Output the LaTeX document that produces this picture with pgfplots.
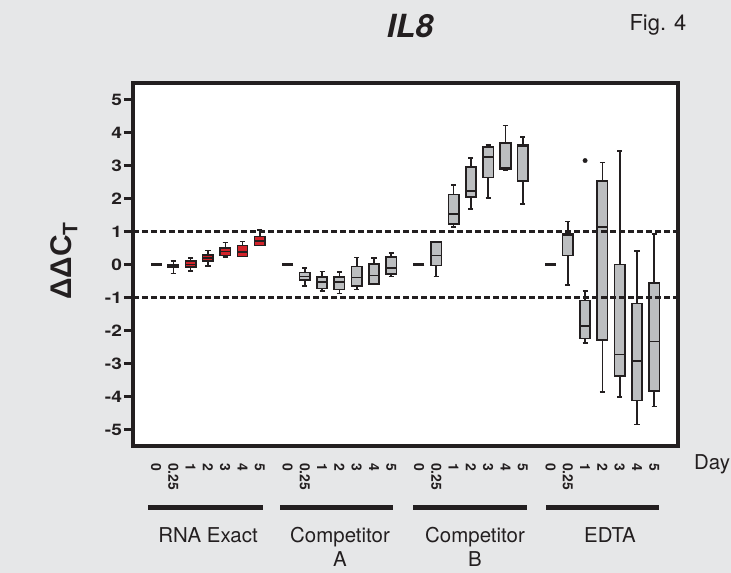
\documentclass[border=0pt]{standalone}
\usepackage{fontspec}
\setmainfont{TeX Gyre Heros}
\newfontfamily\lsans{Liberation Sans}
\usepackage{pgfplots}
\pgfplotsset{compat=1.18}
\usepgfplotslibrary{statistics}
\definecolor{bg}{HTML}{E6E7E8}
\definecolor{ink}{HTML}{231F20}
\definecolor{boxgray}{HTML}{BCBEC0}
\definecolor{boxred}{HTML}{D2232A}
\pgfplotsset{
  gbox/.style={draw=ink, line width=1.7bp, fill=boxgray,
    boxplot/every whisker/.style={line width=1.7bp, draw=ink},
    boxplot/every median/.style={line width=1.7bp, draw=ink},
    boxplot/every box/.style={line width=1.7bp, draw=ink, fill=boxgray}},
  rbox/.style={draw=ink, line width=1.4bp, fill=boxred,
    boxplot/every whisker/.style={line width=1.4bp, draw=ink},
    boxplot/every median/.style={line width=1.4bp, draw=ink},
    boxplot/every box/.style={line width=1.4bp, draw=ink, fill=boxred}},
}
\begin{document}
\begin{tikzpicture}
\fill[bg] (-133bp,-127bp) rectangle (598bp,446bp);
\begin{axis}[
  at={(0,0)}, anchor=south west,
  scale only axis, width=545bp, height=363bp,
  xmin=-1.33, xmax=30.17, ymin=-5.5, ymax=5.5,
  axis background/.style={fill=white},
  axis line style={line width=3.5bp, draw=ink},
  clip=false,
  tick align=outside,
  ytick={-5,-4,-3,-2,-1,0,1,2,3,4,5},
  yticklabels={-5,-4,-3,-2,-1,0,1,2,3,4,5},
  ytick pos=left,
  major tick length=9bp,
  ytick style={line width=3bp, draw=ink},
  yticklabel style={font=\bfseries\fontsize{16}{16}\selectfont, text=ink, inner sep=1.5bp, xscale=1.2},
  xtick={0,1,2,3,4,5,6, 7.6,8.6,9.6,10.6,11.6,12.6,13.6, 15.2,16.2,17.2,18.2,19.2,20.2,21.2, 22.8,23.8,24.8,25.8,26.8,27.8,28.8},
  xticklabels={0,0.25,1,2,3,4,5,0,0.25,1,2,3,4,5,0,0.25,1,2,3,4,5,0,0.25,1,2,3,4,5},
  xtick style={draw=none},
  xticklabel style={rotate=-90, anchor=west, inner sep=0pt, font=\bfseries\fontsize{14}{14}\selectfont, text=ink},
  xticklabel shift=8bp,
  boxplot/draw direction=y,
  boxplot/box extend=0.6,
  boxplot/whisker extend=0.3,
]
% RNA Exact
\addplot[rbox, boxplot prepared={draw position=1, lower whisker=-0.27, lower quartile=-0.07, median=-0.03, upper quartile=0.0, upper whisker=0.11}] coordinates {};
\addplot[rbox, boxplot prepared={draw position=2, lower whisker=-0.2, lower quartile=-0.08, median=0.0, upper quartile=0.1, upper whisker=0.2}] coordinates {};
\addplot[rbox, boxplot prepared={draw position=3, lower whisker=-0.05, lower quartile=0.1, median=0.2, upper quartile=0.29, upper whisker=0.42}] coordinates {};
\addplot[rbox, boxplot prepared={draw position=4, lower whisker=0.23, lower quartile=0.27, median=0.4, upper quartile=0.5, upper whisker=0.66}] coordinates {};
\addplot[rbox, boxplot prepared={draw position=5, lower whisker=0.24, lower quartile=0.25, median=0.38, upper quartile=0.58, upper whisker=0.7}] coordinates {};
\addplot[rbox, boxplot prepared={draw position=6, lower whisker=0.57, lower quartile=0.57, median=0.71, upper quartile=0.85, upper whisker=1.05}] coordinates {};
% Competitor A
\addplot[gbox, boxplot prepared={draw position=8.6, lower whisker=-0.66, lower quartile=-0.48, median=-0.36, upper quartile=-0.24, upper whisker=-0.1}] coordinates {};
\addplot[gbox, boxplot prepared={draw position=9.6, lower whisker=-0.81, lower quartile=-0.73, median=-0.53, upper quartile=-0.38, upper whisker=-0.21}] coordinates {};
\addplot[gbox, boxplot prepared={draw position=10.6, lower whisker=-0.88, lower quartile=-0.76, median=-0.53, upper quartile=-0.38, upper whisker=-0.23}] coordinates {};
\addplot[gbox, boxplot prepared={draw position=11.6, lower whisker=-0.76, lower quartile=-0.66, median=-0.39, upper quartile=-0.06, upper whisker=0.21}] coordinates {};
\addplot[gbox, boxplot prepared={draw position=12.6, lower whisker=-0.6, lower quartile=-0.6, median=-0.33, upper quartile=0.02, upper whisker=0.2}] coordinates {};
\addplot[gbox, boxplot prepared={draw position=13.6, lower whisker=-0.36, lower quartile=-0.28, median=-0.1, upper quartile=0.23, upper whisker=0.35}] coordinates {};
% Competitor B
\addplot[gbox, boxplot prepared={draw position=16.2, lower whisker=-0.36, lower quartile=-0.03, median=0.27, upper quartile=0.68, upper whisker=0.7}] coordinates {};
\addplot[gbox, boxplot prepared={draw position=17.2, lower whisker=1.13, lower quartile=1.22, median=1.52, upper quartile=2.12, upper whisker=2.4}] coordinates {};
\addplot[gbox, boxplot prepared={draw position=18.2, lower whisker=1.69, lower quartile=2.05, median=2.23, upper quartile=2.95, upper whisker=3.23}] coordinates {};
\addplot[gbox, boxplot prepared={draw position=19.2, lower whisker=2.02, lower quartile=2.64, median=3.26, upper quartile=3.56, upper whisker=3.63}] coordinates {};
\addplot[gbox, boxplot prepared={draw position=20.2, lower whisker=2.86, lower quartile=2.9, median=2.93, upper quartile=3.68, upper whisker=4.21}] coordinates {};
\addplot[gbox, boxplot prepared={draw position=21.2, lower whisker=1.84, lower quartile=2.52, median=3.6, upper quartile=3.64, upper whisker=3.86}] coordinates {};
% EDTA
\addplot[gbox, boxplot prepared={draw position=23.8, lower whisker=-0.63, lower quartile=0.27, median=0.88, upper quartile=0.92, upper whisker=1.3}] coordinates {};
\addplot[gbox, boxplot prepared={draw position=24.8, lower whisker=-2.37, lower quartile=-2.24, median=-1.87, upper quartile=-1.09, upper whisker=-0.81}] coordinates {};
\addplot[gbox, boxplot prepared={draw position=25.8, lower whisker=-3.86, lower quartile=-2.29, median=1.14, upper quartile=2.53, upper whisker=3.09}] coordinates {};
\addplot[gbox, boxplot prepared={draw position=26.8, lower whisker=-4.02, lower quartile=-3.38, median=-2.73, upper quartile=0.0, upper whisker=3.44}] coordinates {};
\addplot[gbox, boxplot prepared={draw position=27.8, lower whisker=-4.85, lower quartile=-4.12, median=-2.92, upper quartile=-1.18, upper whisker=0.4}] coordinates {};
\addplot[gbox, boxplot prepared={draw position=28.8, lower whisker=-4.3, lower quartile=-3.83, median=-2.33, upper quartile=-0.57, upper whisker=0.93}] coordinates {};
% outlier
\addplot[only marks, mark=*, mark size=2.2bp, ink, mark options={fill=ink}] coordinates {(24.8,3.15)};
% day-0 values
\addplot[only marks, mark=-, mark size=5.5bp, mark options={line width=3.5bp, draw=ink}] coordinates {(0,0) (7.6,0) (15.2,0) (22.8,0)};
% threshold lines
\addplot[ink, line width=2.6bp, dash pattern=on 6bp off 3bp] coordinates {(-1.33,1) (30.17,1)};
\addplot[ink, line width=2.6bp, dash pattern=on 6bp off 3bp] coordinates {(-1.33,-1) (30.17,-1)};
\end{axis}
% group bars and labels
\begin{scope}[line width=5bp, draw=ink]
\draw (15bp,-61bp) -- (130bp,-61bp);
\draw (147bp,-61bp) -- (260bp,-61bp);
\draw (280bp,-61bp) -- (394bp,-61bp);
\draw (413bp,-61bp) -- (526bp,-61bp);
\end{scope}
\begin{scope}[every node/.style={anchor=north, inner sep=0pt, align=center, text=ink, font=\fontsize{20.5}{24}\selectfont}]
\node at (75bp,-81bp) {RNA Exact};
\node at (207bp,-81bp) {Competitor\\A};
\node at (342bp,-81bp) {Competitor\\B};
\node at (477bp,-81bp) {EDTA};
\end{scope}
\node[anchor=west, inner sep=0pt, text=ink, font=\fontsize{20.5}{24}\selectfont] at (561bp,-18bp) {Day};
\node[rotate=90, inner sep=0pt, text=ink, font=\lsans\bfseries\fontsize{30}{30}\selectfont] at (-69bp,185bp) {ΔΔC\textsubscript{T}};
\node[inner sep=0pt, text=ink, font=\bfseries\itshape\fontsize{32}{32}\selectfont] at (277bp,420bp) {IL8};
\node[inner sep=0pt, text=ink, font=\fontsize{22}{22}\selectfont] at (525bp,421bp) {Fig. 4};
\pgfresetboundingbox
\useasboundingbox (-133bp,-127bp) rectangle (598bp,446bp);
\end{tikzpicture}
\end{document}
